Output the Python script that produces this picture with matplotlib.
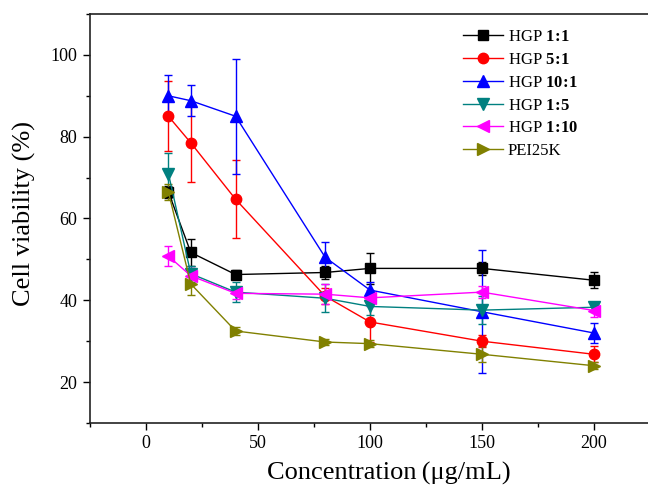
import matplotlib
matplotlib.use("Agg")
import matplotlib.pyplot as plt
from matplotlib.lines import Line2D
from matplotlib.ticker import MultipleLocator

plt.rcParams["font.family"] = ["Liberation Serif", "DejaVu Serif"]
plt.rcParams["mathtext.fontset"] = "custom"
plt.rcParams["mathtext.rm"] = "Liberation Serif"
plt.rcParams["mathtext.bf"] = "Liberation Serif:bold"

conc = [10, 20, 40, 80, 100, 150, 200]

labels = [r"HGP $\mathbf{1\!:\!1}$", r"HGP $\mathbf{5\!:\!1}$", r"HGP $\mathbf{10\!:\!1}$",
          r"HGP $\mathbf{1\!:\!5}$", r"HGP $\mathbf{1\!:\!10}$", "PEI25K"]

hgp_1_1 = [66.5, 51.7, 46.3, 46.8, 47.8, 47.8, 44.9]
hgp_1_1_err = [1.5, 3.3, 1.0, 1.5, 3.8, 1.5, 2.0]
hgp_5_1 = [85.0, 78.5, 64.7, 41.0, 34.7, 30.0, 26.8]
hgp_5_1_err = [8.5, 9.5, 9.5, 2.0, 5.0, 1.5, 2.0]
hgp_10_1 = [90.0, 88.8, 85.0, 50.5, 42.5, 37.2, 32.0]
hgp_10_1_err = [5.0, 3.8, 14.0, 3.7, 2.0, 15.0, 2.5]
hgp_1_5 = [71.0, 46.5, 42.0, 40.5, 38.5, 37.6, 38.3]
hgp_1_5_err = [5.0, 2.0, 2.5, 3.4, 2.0, 3.5, 1.0]
hgp_1_10 = [50.8, 46.0, 41.7, 41.5, 40.6, 42.0, 37.5]
hgp_1_10_err = [2.4, 2.0, 1.5, 2.5, 2.0, 1.5, 1.5]
pei25k = [66.5, 44.0, 32.5, 29.8, 29.4, 26.8, 24.0]
pei25k_err = [2.0, 2.8, 1.0, 0.8, 0.8, 2.0, 0.8]

series = [hgp_1_1, hgp_5_1, hgp_10_1, hgp_1_5, hgp_1_10, pei25k]
errors = [hgp_1_1_err, hgp_5_1_err, hgp_10_1_err, hgp_1_5_err, hgp_1_10_err, pei25k_err]
colors = ["#000000", "#ff0000", "#0000ff", "#008080", "#ff00ff", "#808000"]
markers = ["s", "o", "^", "v", "<", ">"]
msizes = [7, 7.5, 9, 9, 9, 9]

fig = plt.figure(figsize=(6.48, 4.99), dpi=100)
ax = fig.add_axes([90 / 648, 1 - 423 / 499, 560 / 648, (423 - 14) / 499])

handles = []
for ys, es, c, m, ms, lab in zip(series, errors, colors, markers, msizes, labels):
    ax.errorbar(conc, ys, yerr=es, color=c, marker=m, markersize=ms,
                linewidth=1.0, elinewidth=1.0, capsize=3, capthick=1.0)
    handles.append(Line2D([], [], color=c, marker=m, markersize=ms,
                          linewidth=1.0, label=lab))

ax.set_xlim(-25, 225)
ax.set_ylim(10, 110)
ax.xaxis.set_major_locator(MultipleLocator(50))
ax.xaxis.set_minor_locator(MultipleLocator(25))
ax.yaxis.set_minor_locator(MultipleLocator(10))
ax.set_yticks([20, 40, 60, 80, 100])
ax.tick_params(which="major", direction="out", length=5, width=1, labelsize=13, pad=4)
ax.tick_params(which="minor", direction="out", length=3, width=1)
ax.spines["right"].set_visible(False)
for s in ["left", "bottom", "top"]:
    ax.spines[s].set_linewidth(1.2)
    ax.spines[s].set_color("#222222")

ax.set_xlabel("Concentration\u2009(μg/mL)", fontsize=19)
ax.xaxis.set_label_coords(0.534, -0.095)
ax.set_ylabel("Cell viability (%)", fontsize=19)
ax.yaxis.set_label_coords(-0.096, 0.513)

ax.legend(handles=handles, loc="upper left", bbox_to_anchor=(463 / 648, 1 - 29 / 499),
          bbox_transform=fig.transFigure, frameon=False, fontsize=12,
          handlelength=2.4, handletextpad=0.3, labelspacing=0.41,
          borderpad=0, borderaxespad=0)

fig.savefig("out.png", dpi=100)
